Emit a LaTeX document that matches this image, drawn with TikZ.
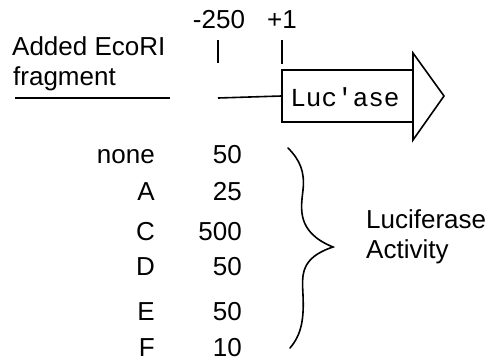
\documentclass[tikz,border=0pt]{standalone}
\usepackage{fontspec}
\setmainfont{Liberation Sans}
\setmonofont{Liberation Mono}
\begin{document}
\begin{tikzpicture}[x=1pt,y=-1pt,
  lbl/.style={inner sep=0pt,font=\fontsize{26}{30}\selectfont},
  rowname/.style={lbl,anchor=base east},
  rowval/.style={lbl,anchor=base east},
  stroke/.style={line width=1.6pt},
  genebox/.style={draw,line width=1.6pt,rectangle,minimum width=131pt,minimum height=52pt,inner sep=0pt}]
\useasboundingbox (0,0) rectangle (493,360);

% position labels and their ticks
\node[lbl,anchor=base] (m250) at (219,28) {-250};
\node[lbl,anchor=base] (p1) at (282,28) {+1};
\coordinate (t1a) at (218,40);
\coordinate (t1b) at (218,63);
\coordinate (t2a) at (282,40);
\coordinate (t2b) at (282,64);
\draw[stroke] (t1a) -- (t1b);
\draw[stroke] (t2a) -- (t2b);

% insert label
\node[lbl,anchor=base west] (added) at (12,55) {Added EcoRI};
\node[lbl,anchor=base west] (frag) at (13,85) {fragment};

% reporter construct
\node[genebox] (luc) at (347.5,96) {};
\node[inner sep=0pt,anchor=base,font=\fontsize{26}{30}\ttfamily] (luctext) at (345,106) {Luc'ase};
\coordinate (ahtop) at (413,53);
\coordinate (ahtip) at (444,96);
\coordinate (ahbot) at (413,140);
\draw[stroke,line join=miter] (ahtop) -- (ahtip) -- (ahbot) -- cycle;

\coordinate (fragL) at (15,98);
\coordinate (fragR) at (170,98);
\coordinate (promL) at (218,98);
\draw[stroke] (fragL) -- (fragR);
\draw[stroke] (promL) -- (luc.west);

% table of fragments and activities
\node[rowname] (rn) at (155,163) {none};
\node[rowname] (ra) at (155,200) {A};
\node[rowname] (rc) at (155,240) {C};
\node[rowname] (rd) at (155,275) {D};
\node[rowname] (re) at (155,320) {E};
\node[rowname] (rf) at (155,356) {F};
\node[rowval] (vn) at (242,163) {50};
\node[rowval] (va) at (242,200) {25};
\node[rowval] (vc) at (242,240) {500};
\node[rowval] (vd) at (242,275) {50};
\node[rowval] (ve) at (242,320) {50};
\node[rowval] (vf) at (242,356) {10};

% brace
\coordinate (bt) at (288,148);
\coordinate (bm) at (333,247);
\coordinate (bb) at (290,348);
\draw[stroke,line cap=round] (bt) .. controls (300,160) and (305,172) .. (303,190)
  .. controls (301,208) and (296,232) .. (bm)
  .. controls (300,258) and (302,275) .. (303,295)
  .. controls (304,318) and (302,334) .. (bb);

\node[lbl,anchor=base west] (luci) at (366,228) {Luciferase};
\node[lbl,anchor=base west] (act) at (366,258) {Activity};
\end{tikzpicture}
\end{document}
